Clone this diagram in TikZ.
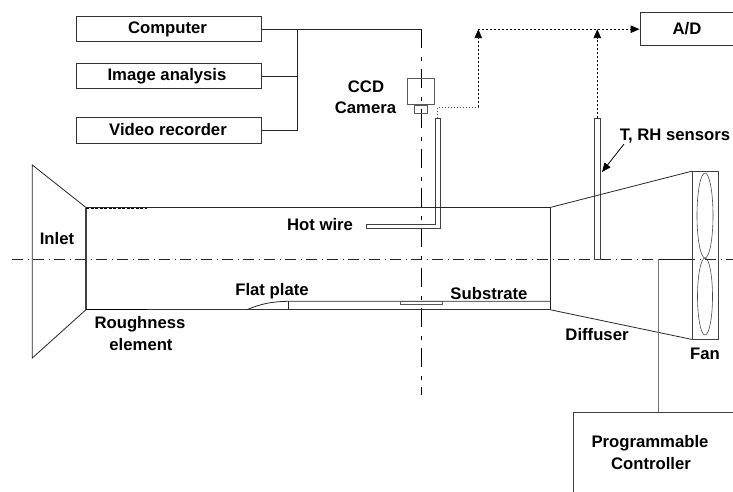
\documentclass[tikz,border=0pt]{standalone}
\usepackage{fontspec}
\setmainfont{Liberation Sans}
\usetikzlibrary{arrows.meta,shapes.geometric}
\tikzset{
  every picture/.style={x=1pt,y=-1pt},
  line/.style={draw=black!85,line width=0.8pt},
  label text/.style={font=\fontsize{16.7}{16.7}\selectfont\bfseries,inner sep=0pt,text=black,align=center},
  boxnode/.style={rectangle,draw=black!80,line width=0.9pt,minimum width=185pt,minimum height=25.5pt,inner sep=0pt},
  axis line/.style={draw=black!85,line width=0.7pt,dash pattern=on 11pt off 4.5pt on 1.5pt off 4pt},
  vaxis line/.style={draw=black,line width=0.8pt,dash pattern=on 19pt off 9pt on 4pt off 7.8pt},
  signal/.style={draw=black,line width=0.9pt,dash pattern=on 2pt off 2pt},
  fine signal/.style={draw=black!70,line width=0.7pt,dash pattern=on 1.5pt off 1.5pt},
  tip/.style={-{Triangle[length=9pt,width=7.5pt]}},
  probe/.style={draw=black!75,line width=0.8pt},
}
\begin{document}
\begin{tikzpicture}
\useasboundingbox (0,0) rectangle (733,492);
% centre lines
\coordinate (axL) at (12,259); \coordinate (axR) at (733,259);
\coordinate (vaxB) at (421,395);
\draw[axis line] (axL) -- (axR);
% top boxes
\node[boxnode] (computer) at (169,29.2) {};
\node[boxnode] (image) at (169,76) {};
\node[boxnode] (video) at (169,130.3) {};
\node[label text] (computert) at (167.5,29) {Computer};
\node[label text] (imaget) at (167,76.5) {Image analysis};
\node[label text] (videot) at (168,130) {Video recorder};
\coordinate (bus1) at (297.5,29.2); \coordinate (bus2) at (297.5,76); \coordinate (bus3) at (297.5,130.3);
\coordinate (corner) at (421,29.2);
\draw[line] (computer.east) -- (corner);
\draw[vaxis line] (corner) -- (vaxB);
\draw[line] (image.east) -- (bus2);
\draw[line] (video.east) -- (bus3) -- (bus1);
% A/D
\node[rectangle,draw=black!80,line width=0.9pt,minimum width=100pt,minimum height=33.5pt,inner sep=0pt] (ad) at (690,29.2) {};
\node[label text] (adt) at (687,28.5) {A/D};
% camera
\node[rectangle,draw=black!65,line width=0.8pt,minimum width=26.5pt,minimum height=26pt,inner sep=0pt] (camera) at (421,91.3) {};
\node[rectangle,draw=black!65,line width=0.8pt,minimum width=13.5pt,minimum height=8.5pt,inner sep=0pt,anchor=north] (lens) at (camera.south) {};
\node[label text] (ccdt) at (366,87) {CCD};
\node[label text] (camt) at (365.5,108) {Camera};
% hot wire probe
\coordinate (hw1) at (435.7,118.5); \coordinate (hw2) at (440.3,118.5); \coordinate (hw3) at (440.3,228);
\coordinate (hw4) at (366,228); \coordinate (hw5) at (366,224.5); \coordinate (hw6) at (435.7,224.5);
\draw[probe] (hw1) -- (hw2) -- (hw3) -- (hw4) -- (hw5) -- (hw6) -- cycle;
% sensor probe
\node[rectangle,draw=black!75,line width=0.8pt,minimum width=6pt,minimum height=140.5pt,inner sep=0pt] (sensor) at (597.3,188.8) {};
% dotted signals
\coordinate (hwtop) at (437.5,118.5);
\coordinate (s1) at (437.5,107.5); \coordinate (s2) at (478.3,107.5); \coordinate (s3) at (478.3,29.2);
\draw[fine signal] (hwtop) -- (s1) -- (s2);
\draw[signal,tip] (s2) -- (s3);
\draw[signal,tip] (s3) -- (ad.west);
\coordinate (s4) at (597.3,29.2);
\draw[signal,tip] (sensor.north) -- (s4);
% tunnel
\coordinate (iTL) at (32.3,165); \coordinate (iBL) at (32.3,358);
\coordinate (tTL) at (86,207.5); \coordinate (tBL) at (86,309.7);
\coordinate (tTR) at (550,207.5); \coordinate (tBR) at (550,309.7);
\draw[line] (tBL) -- (iBL) -- (iTL) -- (tTL);
\draw[draw=black!75,line width=1.1pt] (tTL) -- (tBL);
\draw[line] (tTL) -- (tTR) -- (tBR);
\draw[draw=black!80,line width=1.1pt] (tBL) -- (tBR);
% roughness
\coordinate (r1) at (86,208.6); \coordinate (r2) at (147,208.6);
\coordinate (r3) at (86,309.3); \coordinate (r4) at (147,309.3);
\draw[draw=black,line width=1.5pt,dash pattern=on 3pt off 1.5pt] (r1) -- (r2);
\draw[draw=black,line width=1.5pt] (r3) -- (r4);
% flat plate
\coordinate (fp0) at (247,309.7); \coordinate (fp1) at (288,301.3); \coordinate (fp2) at (288,309.7);
\draw[line] (fp0) .. controls (260,304) and (272,301.5) .. (fp1) -- (tTR |- fp1);
\draw[line] (fp1) -- (fp2);
\node[rectangle,draw=black!65,line width=0.7pt,minimum width=42.7pt,minimum height=3pt,inner sep=0pt,anchor=north] (substrate) at (421.3,301.3) {};
% diffuser and fan
\node[rectangle,draw=black!75,line width=0.9pt,minimum width=26pt,minimum height=167.3pt,inner sep=0pt] (fan) at (705.3,255.3) {};
\draw[line] (tTR) -- (fan.north west);
\draw[line] (tBR) -- (fan.south west);
\node[ellipse,draw=black!70,line width=0.6pt,minimum width=16pt,minimum height=85pt,inner sep=0pt] (blade1) at (705,215.5) {};
\node[ellipse,draw=black!70,line width=0.6pt,minimum width=15pt,minimum height=77pt,inner sep=0pt] (blade2) at (705,296.5) {};
% controller
\coordinate (c1) at (692.3,259); \coordinate (c2) at (658,259);
\coordinate (pcTL) at (573.7,412); \coordinate (pcTR) at (733,412); \coordinate (pcBL) at (573.7,492);
\draw[draw=black!90,line width=0.8pt] (c1) -- (c2);
\draw[draw=black!55,line width=1pt] (c2) -- (c2 |- pcTL);
\draw[draw=black!75,line width=0.9pt] (pcBL) -- (pcTL) -- (pcTR);
\node[label text] (pct1) at (650,443) {Programmable};
\node[label text] (pct2) at (651,463.5) {Controller};
% labels
\node[label text] (sens) at (675,136) {T, RH sensors};
\coordinate (lead) at (624,144);
\coordinate (leadend) at (602,172);
\draw[draw=black,line width=0.8pt,tip] (lead) -- (leadend);
\node[label text] (inlet) at (57,239) {Inlet};
\node[label text] (hot) at (320,225) {Hot wire};
\node[label text] (flat) at (272,291.5) {Flat plate};
\node[label text] (rough1) at (140,324.5) {Roughness};
\node[label text] (rough2) at (141,345) {element};
\node[label text] (subt) at (489,293.5) {Substrate};
\node[label text] (diff) at (597,334.5) {Diffuser};
\node[label text] (fant) at (705,354) {Fan};
\end{tikzpicture}
\end{document}
